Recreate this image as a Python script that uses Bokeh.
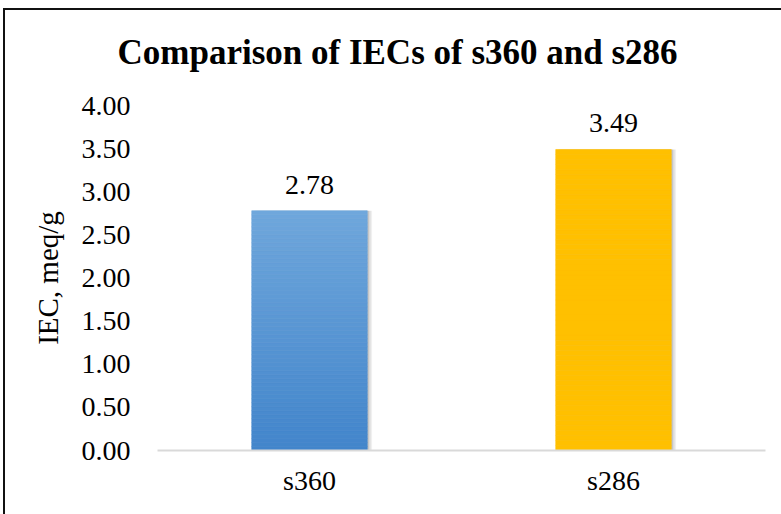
from bokeh.plotting import figure
from bokeh.models import FactorRange, Range1d, FixedTicker, NumeralTickFormatter, ColumnDataSource, Title
from bokeh.core.properties import value
from bokeh.transform import dodge
from bokeh.embed import file_html
from bokeh.resources import INLINE

# IEC values for the two samples
samples = ["s360", "s286"]
iec = [2.78, 3.49]
value_labels = ["2.78", "3.49"]
y_ticks = [0.0, 0.5, 1.0, 1.5, 2.0, 2.5, 3.0, 3.5, 4.0]
title_text = "Comparison of IECs of s360 and s286"

# bar fill: blue fades from light top to darker bottom, gold is flat
top_colors = [(111, 167, 220), (255, 192, 0)]
bottom_colors = [(66, 133, 203), (255, 192, 0)]

SERIF = "Liberation Serif"
BAR_W = 0.38

p = figure(
    width=781, height=514,
    x_range=FactorRange(factors=samples, range_padding=0),
    y_range=Range1d(0, 4),
    output_backend="svg", toolbar_location=None,
    min_border_left=157, min_border_right=16, min_border_top=103, min_border_bottom=64,
)
# transparent canvas over a host background that carries the chart's outer frame
p.border_fill_color = None
p.background_fill_color = None
p.styles = {
    "background": ("linear-gradient(#111, #111) 3px 8px / 2px 520px no-repeat, "
                   "linear-gradient(#111, #111) 3px 8px / 790px 2px no-repeat, #ffffff"),
}
p.outline_line_color = None
p.xgrid.grid_line_color = None
p.ygrid.grid_line_color = None

p.title = Title(text=title_text, text_font=SERIF, text_font_size="35px",
                text_font_style="bold", text_color="#000000",
                align="left", vertical_align="top", offset=-40, standoff=64)

# soft shadow on the right side of each bar
for shift, alpha in [(0.016, 0.06), (0.011, 0.08), (0.006, 0.10)]:
    p.vbar(x=dodge("x", shift, range=p.x_range), top="top", width=BAR_W,
           source=ColumnDataSource(dict(x=samples, top=iec)),
           fill_color="#000000", fill_alpha=alpha, line_color=None)

# bars as stacked horizontal strips so the fill can shade vertically
N = 60
xs, bots, tops, cols = [], [], [], []
for s, v, ct, cb in zip(samples, iec, top_colors, bottom_colors):
    for i in range(N):
        f = (i + 0.5) / N
        r, g, b = (round(cb[k] + (ct[k] - cb[k]) * f) for k in range(3))
        xs.append(s)
        bots.append(v * i / N)
        tops.append(v * (i + 1) / N)
        cols.append("#%02x%02x%02x" % (r, g, b))
p.vbar(x="x", bottom="bottom", top="top", width=BAR_W, fill_color="color", line_color="color",
       line_width=0.6, source=ColumnDataSource(dict(x=xs, bottom=bots, top=tops, color=cols)))

# value labels above the bars
p.text(x=samples, y=iec, text=value_labels, text_font=value(SERIF), text_font_size="28px",
       text_align="center", text_baseline="bottom", y_offset=-17, text_color="#000000")

p.yaxis.ticker = FixedTicker(ticks=y_ticks)
p.yaxis.formatter = NumeralTickFormatter(format="0.00")
p.yaxis.axis_line_color = None
p.yaxis.major_tick_line_color = None
p.yaxis.minor_tick_line_color = None
p.yaxis.major_label_standoff = 21
p.yaxis.axis_label = "IEC, meq/g"
p.yaxis.axis_label_standoff = 15
p.yaxis.axis_label_text_font = SERIF
p.yaxis.axis_label_text_font_size = "29px"
p.yaxis.axis_label_text_font_style = "normal"
p.yaxis.axis_label_text_color = "#000000"
p.yaxis.major_label_text_font = SERIF
p.yaxis.major_label_text_font_size = "28px"
p.yaxis.major_label_text_color = "#000000"

p.xaxis.axis_line_color = "#d9d9d9"
p.xaxis.axis_line_width = 2
p.xaxis.major_tick_line_color = None
p.xaxis.minor_tick_line_color = None
p.xaxis.major_label_standoff = 8
p.xaxis.major_label_text_font = SERIF
p.xaxis.major_label_text_font_size = "28px"
p.xaxis.major_label_text_color = "#000000"

open("out.html", "w").write(file_html(p, INLINE))
